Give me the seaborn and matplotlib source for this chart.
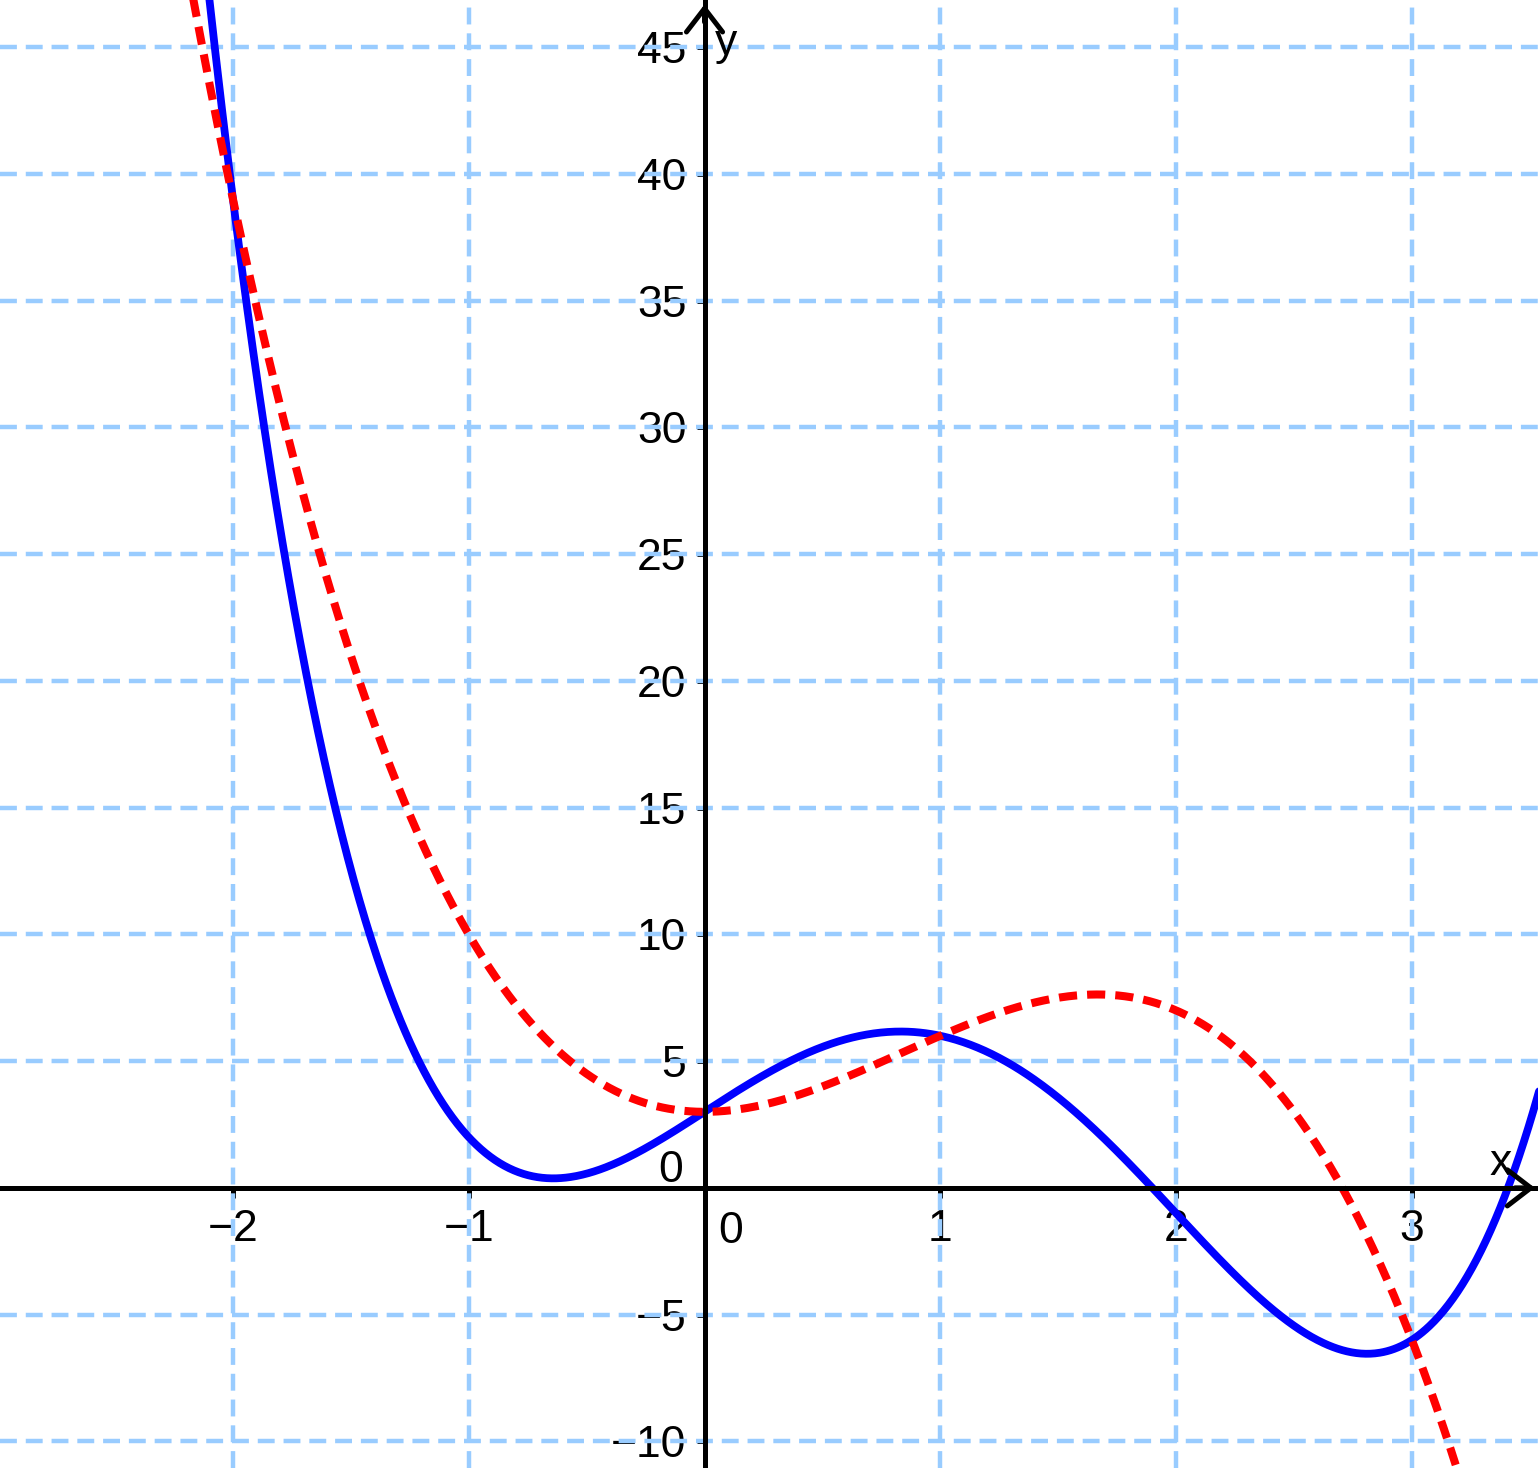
import numpy as np
import pandas as pd
import matplotlib
matplotlib.use("Agg")
import matplotlib.pyplot as plt
import seaborn as sns

sns.set_theme(style="white")
plt.rcParams['font.family'] = ['Liberation Sans', 'DejaVu Sans']

# Polynomial coefficients (highest power first)
blue_coeffs = [1, -4, 0, 6, 3]     # f(x) = x^4 - 4x^3 + 6x + 3
red_coeffs = [-2, 5, 0, 3]         # g(x) = -2x^3 + 5x^2 + 3

x_ticks = [-2, -1, 1, 2, 3]
y_ticks = [-10, -5, 5, 10, 15, 20, 25, 30, 35, 40, 45]
x_range = [-2.988, 3.535]
y_range = [-11.05, 46.86]

xs = np.linspace(-2.4, 3.6, 1200)
df = pd.DataFrame({
    "x": xs,
    "blue": np.polyval(blue_coeffs, xs),
    "red": np.polyval(red_coeffs, xs),
})

fig = plt.figure(figsize=(15.38, 14.68), dpi=100)
ax = fig.add_axes([0, 0, 1, 1])

# grid
grid_kw = dict(color='#99CCFF', lw=3.2, ls=(0, (3.8, 2.0)), zorder=1)
for xv in x_ticks:
    ax.axvline(xv, **grid_kw)
for yv in y_ticks:
    ax.axhline(yv, **grid_kw)

sns.lineplot(data=df, x="x", y="blue", ax=ax, color='#0000FF', lw=5.6, zorder=4, sort=False)
sns.lineplot(data=df, x="x", y="red", ax=ax, color='#FF0000', lw=5.8, zorder=5,
             sort=False, linestyle=(0, (2.25, 1.25)))

ax.set_xlim(x_range)
ax.set_ylim(y_range)
ax.set_xlabel("")
ax.set_ylabel("")

# axes through origin
for s in ['top', 'right']:
    ax.spines[s].set_visible(False)
ax.spines['left'].set_position(('data', 0))
ax.spines['bottom'].set_position(('data', 0))
for s in ['left', 'bottom']:
    ax.spines[s].set_color('black')
    ax.spines[s].set_linewidth(3.6)
    ax.spines[s].set_zorder(6)

ax.set_xticks(x_ticks)
ax.set_xticklabels([str(v).replace('-', '\u2212') for v in x_ticks])
ax.set_yticks(y_ticks)
ax.set_yticklabels([str(v).replace('-', '\u2212') for v in y_ticks])
ax.tick_params(axis='x', direction='out', length=7, width=3.6, color='black',
               labelcolor='black', labelsize=32, pad=8, bottom=True)
ax.tick_params(axis='y', direction='out', length=6, width=3.6, color='black',
               labelcolor='black', labelsize=32, pad=7, left=True)

# zero labels
ax.text(-0.09, 0.24, "0", fontsize=32, ha='right', va='baseline', color='black')
ax.text(0.057, -0.9, "0", fontsize=32, ha='left', va='top', color='black')

# axis names
ax.text(0.045, 44.7, "y", fontsize=32, ha='left', va='baseline', color='black')
ax.text(3.331, 0.51, "x", fontsize=32, ha='left', va='baseline', color='black')

# arrow heads
arrow_kw = dict(arrowstyle='->,head_length=1.3,head_width=1.0', lw=3.6,
                color='black', mutation_scale=13, shrinkA=0, shrinkB=0)
ax.annotate('', xy=(0, 0.997), xycoords=('data', 'axes fraction'),
            xytext=(0, 0.985), textcoords=('data', 'axes fraction'),
            arrowprops=arrow_kw, zorder=7)
ax.annotate('', xy=(0.998, 0), xycoords=('axes fraction', 'data'),
            xytext=(0.985, 0), textcoords=('axes fraction', 'data'),
            arrowprops=arrow_kw, zorder=7)

fig.savefig("out.png", dpi=100)
